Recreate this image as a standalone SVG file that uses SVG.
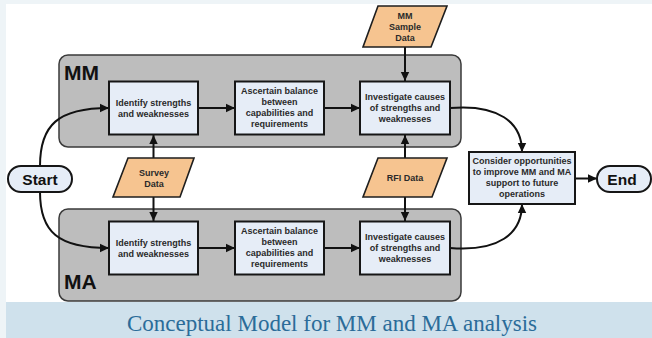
<svg xmlns="http://www.w3.org/2000/svg" width="652" height="338" viewBox="0 0 652 338">
<defs>
<marker id="ah" markerUnits="userSpaceOnUse" markerWidth="10" markerHeight="10" refX="9" refY="5" orient="auto">
<path d="M0,0.8 L9,5 L0,9.2 Z" fill="#111"/>
</marker>
<style>
.panel{fill:#bdbdbd;stroke:#3a3a3a;stroke-width:1.5}
.box{fill:#e6edf7;stroke:#161616;stroke-width:2}
.pill{fill:#e6edf7;stroke:#161616;stroke-width:2}
.data{fill:#f6c490;stroke:#1e1e1e;stroke-width:1.6}
.t{font-family:"Liberation Sans",Arial,sans-serif;font-weight:bold;font-size:9px;fill:#2a2a2a;text-anchor:middle}
.big{font-family:"Liberation Sans",Arial,sans-serif;font-weight:bold;font-size:21px;fill:#111}
.term{font-family:"Liberation Sans",Arial,sans-serif;font-weight:bold;font-size:15.5px;fill:#111;text-anchor:middle}
.c{fill:none;stroke:#111;stroke-width:2;marker-end:url(#ah)}
</style>
</defs>
<rect x="0" y="0" width="652" height="338" fill="#eef4f7"/>
<rect x="6" y="4" width="646" height="298" fill="#ffffff"/>
<rect x="6" y="302" width="646" height="36" fill="#cfe1ec"/>
<text x="332" y="331" font-family="Liberation Serif,'Times New Roman',serif" font-size="23" fill="#2b6c99" text-anchor="middle">Conceptual Model for MM and MA analysis</text>

<g id="panel-mm"><rect class="panel" x="59" y="55" width="402" height="92" rx="9"/><text class="big" x="64" y="80">MM</text></g>
<g id="panel-ma"><rect class="panel" x="59" y="209" width="402" height="92" rx="9"/><text class="big" x="64" y="289">MA</text></g>

<g id="connectors">
<path class="c" d="M405,47 L405,81"/>
<path class="c" d="M153.5,158 L153.5,135"/>
<path class="c" d="M153.5,197 L153.5,221"/>
<path class="c" d="M405,158 L405,135"/>
<path class="c" d="M405,197 L405,221"/>
<path class="c" d="M198,108 L235,108"/>
<path class="c" d="M324,108 L360,108"/>
<path class="c" d="M198,248 L235,248"/>
<path class="c" d="M324,248 L360,248"/>
<path class="c" d="M40,166 C40,125 58,108 109,108"/>
<path class="c" d="M40,192 C40,232 58,248 109,248"/>
<path class="c" d="M450,108 C498,104 522,122 522,152"/>
<path class="c" d="M450,248 C498,252 522,234 522,204"/>
<path class="c" d="M575,178.5 L597,178.5"/>
</g>

<g id="start"><rect class="pill" x="8" y="166" width="64" height="26" rx="13"/><text class="term" x="40" y="184.5">Start</text></g>
<g id="end"><rect class="pill" x="597" y="166" width="54" height="26" rx="13"/><text class="term" x="622" y="184.5">End</text></g>

<g id="mm-sample"><polygon class="data" points="378,6 447,6 431,47 363,47"/><text class="t" x="405" y="18.5">MM</text><text class="t" x="405" y="29.5">Sample</text><text class="t" x="405" y="40.5">Data</text></g>
<g id="survey"><polygon class="data" points="128,158 194,158 180,197 113,197"/><text class="t" x="154" y="176">Survey</text><text class="t" x="154" y="187">Data</text></g>
<g id="rfi"><polygon class="data" points="378,158 447,158 432,197 363,197"/><text class="t" x="405" y="180.5">RFI Data</text></g>

<g id="mm-identify"><rect class="box" x="109" y="81.5" width="89" height="53"/><text class="t" x="153.5" y="105.5">Identify strengths</text><text class="t" x="153.5" y="116.5">and weaknesses</text></g>
<g id="mm-ascertain"><rect class="box" x="235" y="81.5" width="89" height="53"/><text class="t" x="279.5" y="94">Ascertain balance</text><text class="t" x="279.5" y="105">between</text><text class="t" x="279.5" y="116">capabilities and</text><text class="t" x="279.5" y="127">requirements</text></g>
<g id="mm-investigate"><rect class="box" x="360" y="81.5" width="90" height="53"/><text class="t" x="405" y="100">Investigate causes</text><text class="t" x="405" y="111">of strengths and</text><text class="t" x="405" y="122">weaknesses</text></g>

<g id="ma-identify"><rect class="box" x="109" y="221.5" width="89" height="53"/><text class="t" x="153.5" y="245.5">Identify strengths</text><text class="t" x="153.5" y="256.5">and weaknesses</text></g>
<g id="ma-ascertain"><rect class="box" x="235" y="221.5" width="89" height="53"/><text class="t" x="279.5" y="234">Ascertain balance</text><text class="t" x="279.5" y="245">between</text><text class="t" x="279.5" y="256">capabilities and</text><text class="t" x="279.5" y="267">requirements</text></g>
<g id="ma-investigate"><rect class="box" x="360" y="221.5" width="90" height="53"/><text class="t" x="405" y="240">Investigate causes</text><text class="t" x="405" y="251">of strengths and</text><text class="t" x="405" y="262">weaknesses</text></g>

<g id="consider"><rect class="box" x="469" y="152" width="106" height="52"/><text class="t" x="522" y="164">Consider opportunities</text><text class="t" x="522" y="175">to improve MM and MA</text><text class="t" x="522" y="186">support to future</text><text class="t" x="522" y="197">operations</text></g>
</svg>
